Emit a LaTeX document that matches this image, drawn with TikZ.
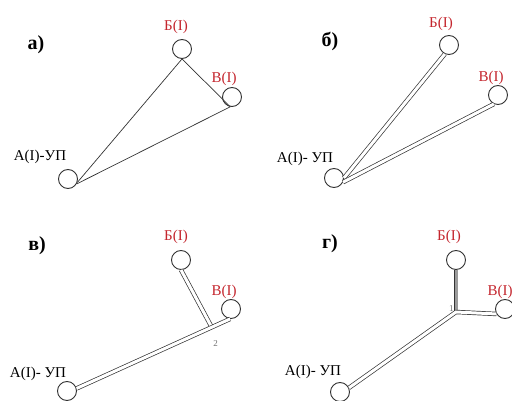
\documentclass[tikz,border=0pt]{standalone}
\usepackage{fontspec}
\setmainfont{Liberation Serif}
\usetikzlibrary{positioning, calc}
\definecolor{cred}{HTML}{C4262E}
\definecolor{cline}{HTML}{333333}
\definecolor{cgrey}{HTML}{9A9A9A}
\definecolor{cnum}{HTML}{6E6E6E}
\tikzset{
  every picture/.style={line width=0.7pt},
  stn/.style={circle, draw=cline, fill=white, line width=0.9pt, minimum size=19pt, inner sep=0pt},
  stnlabel/.style={text=cred, font=\fontsize{15}{15}\selectfont, inner sep=1pt},
  hublabel/.style={text=black, font=\fontsize{15}{15}\selectfont, inner sep=1pt},
  paneltag/.style={font=\bfseries\fontsize{20}{20}\selectfont, inner sep=0pt},
  ptnum/.style={text=cnum, font=\fontsize{9}{9}\selectfont, inner sep=0pt},
  link/.style={draw=cline, line width=0.7pt},
  pipe/.style={draw=cline, line width=0.7pt, double=#1, double distance=3pt},
  pipe/.default=white,
}

\begin{document}
\begin{tikzpicture}[x=1pt, y=-1pt]
  \useasboundingbox (0,0) rectangle (512,401);
  % a) closed ring
  \node[paneltag] (a-tag) at (36,45) {а)};
  \node[stn] (a-b) at (182,49) {};
  \node[stn] (a-v) at (232,97) {};
  \node[stn] (a-a) at (68,179) {};
  \node[stnlabel, above=4pt of a-b, xshift=-6pt] (a-bl) {Б(I)};
  \node[stnlabel, above=0pt of a-v, xshift=-8pt] (a-vl) {В(I)};
  \node[hublabel, above=4pt of a-a, xshift=-28pt] (a-al) {А(I)-УП};
  \draw[link] (a-a.-20) -- (a-b.south);
  \draw[link] (a-b.south) -- (a-v.-100);
  \draw[link] (a-a.-30) -- (a-v.-100);
  % b) radial
  \node[paneltag] (b-tag) at (330,41) {б)};
  \node[stn] (b-b) at (449,45) {};
  \node[stn] (b-v) at (498,95) {};
  \node[stn] (b-a) at (334,178) {};
  \node[stnlabel, above=3pt of b-b, xshift=-8pt] (b-bl) {Б(I)};
  \node[stnlabel, above=-1pt of b-v, xshift=-7pt] (b-vl) {В(I)};
  \node[hublabel, above=1pt of b-a, xshift=-29pt] (b-al) {А(I)- УП};
  \draw[pipe] (b-a.0) -- (b-b.-115);
  \draw[pipe] (b-a.-25) -- (b-v.-115);
  % v) branch at point 2
  \node[paneltag] (v-tag) at (37,246) {в)};
  \node[stn] (v-b) at (181,260) {};
  \node[stn] (v-v) at (231,309) {};
  \node[stn] (v-a) at (67,391) {};
  \node[stnlabel, above=5pt of v-b, xshift=-5pt] (v-bl) {Б(I)};
  \node[stnlabel, above=-1pt of v-v, xshift=-7pt] (v-vl) {В(I)};
  \node[hublabel, above=-1pt of v-a, xshift=-29pt] (v-al) {А(I)- УП};
  \coordinate (v-j) at ($(v-a.15)!0.88!(v-v.-95)$);
  \draw[pipe] (v-b.south) -- (v-j);
  \draw[pipe] (v-a.15) -- (v-v.-95);
  \node[ptnum, below=13pt of v-j, xshift=4pt] (v-n) {2};
  % g) branch at point 1
  \node[paneltag] (g-tag) at (330,244) {г)};
  \node[stn] (g-b) at (456,260) {};
  \node[stn] (g-v) at (505,309) {};
  \node[stn] (g-a) at (340,392) {};
  \node[stnlabel, above=5pt of g-b, xshift=-7pt] (g-bl) {Б(I)};
  \node[stnlabel, above=-1pt of g-v, xshift=-5pt] (g-vl) {В(I)};
  \node[hublabel, above=2pt of g-a, xshift=-27pt] (g-al) {А(I)- УП};
  \coordinate (g-j) at (456,312);
  \draw[pipe=cgrey] (g-b.south) -- (g-j);
  \draw[pipe] (g-a.25) -- (g-j) -- (g-v.-150);
  \node[ptnum, left=2pt of g-j, yshift=3pt] (g-n) {1};
\end{tikzpicture}
\end{document}
